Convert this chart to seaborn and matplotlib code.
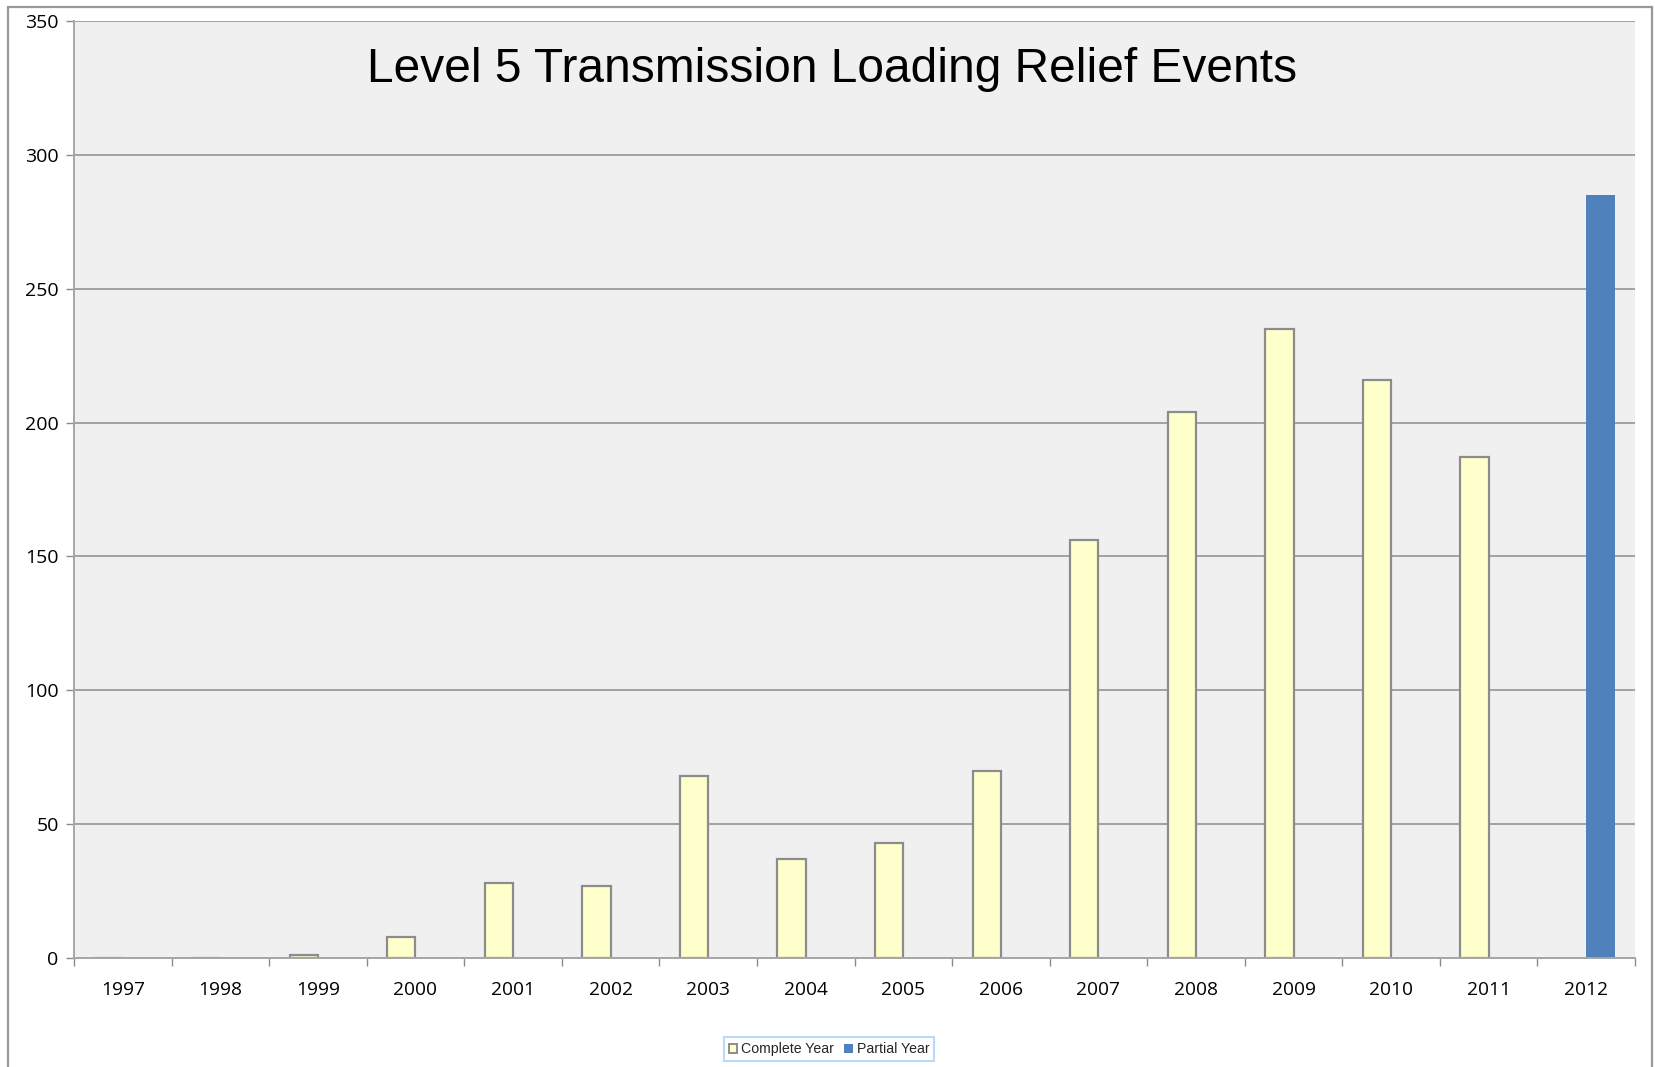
import matplotlib
matplotlib.use("Agg")
import matplotlib.pyplot as plt
from matplotlib.patches import Rectangle, Patch
from matplotlib.ticker import FixedLocator, NullFormatter
import seaborn as sns
import pandas as pd

# Level 5 TLR event counts by year
years = ["1997", "1998", "1999", "2000", "2001", "2002", "2003", "2004",
         "2005", "2006", "2007", "2008", "2009", "2010", "2011", "2012"]
complete_years = years[:-1]
complete_counts = [0, 0, 1, 8, 28, 27, 68, 37, 43, 70, 156, 204, 235, 216, 187]
partial_years = ["2012"]
partial_counts = [285]
series = ["Complete Year", "Partial Year"]
yticks = [0, 50, 100, 150, 200, 250, 300, 350]

df = pd.DataFrame({
    "year": complete_years + partial_years,
    "events": complete_counts + partial_counts,
    "kind": [series[0]] * len(complete_years) + [series[1]] * len(partial_years),
})

sns.set_theme(style="white")
plt.rcParams["font.family"] = ["Open Sans", "DejaVu Sans"]

fig = plt.figure(figsize=(16.55, 10.67), dpi=100)
ax = fig.add_axes([74 / 1655, 109 / 1067, (1635 - 74) / 1655, (958 - 21) / 1067])
ax.set_facecolor("#f0f0f0")

fill_colors = {"Complete Year": "#ffffcc", "Partial Year": "#4f81bd"}
sns.barplot(data=df, x="year", y="events", hue="kind", order=years,
            hue_order=series, palette=fill_colors, width=0.58,
            saturation=1, dodge=True, ax=ax, legend=False, zorder=3)

for bar in ax.patches:
    fc = bar.get_facecolor()
    if fc[2] > 0.7 and fc[0] > 0.9:  # light yellow bars get a gray outline
        bar.set_edgecolor("#8c8c8c")
        bar.set_linewidth(1.6)
    else:
        bar.set_edgecolor("none")

ax.set_xlim(-0.5, len(years) - 0.5)
ax.set_ylim(0, 350)
ax.set_yticks(yticks)
ax.yaxis.grid(True, color="#8c8c8c", linewidth=1.1, zorder=0)
ax.set_axisbelow(True)
ax.set_xlabel("")
ax.set_ylabel("")

# year labels centred, tick marks on category boundaries
ax.xaxis.set_minor_locator(FixedLocator([i - 0.5 for i in range(len(years) + 1)]))
ax.xaxis.set_minor_formatter(NullFormatter())
ax.tick_params(axis="x", which="major", length=0, labelsize=13.8, pad=16.5,
               labelcolor="black")
ax.tick_params(axis="x", which="minor", bottom=True, length=6, width=1,
               color="#8c8c8c")
ax.tick_params(axis="y", left=True, length=6, width=1, color="#8c8c8c",
               labelsize=14, pad=5, labelcolor="black")

for side in ("top", "right"):
    ax.spines[side].set_visible(False)
for side in ("left", "bottom"):
    ax.spines[side].set_color("#a6a6a6")
    ax.spines[side].set_linewidth(1.4)
    ax.spines[side].set_zorder(4)

fig.text(0.503, 1 - 69 / 1067, "Level 5 Transmission Loading Relief Events",
         ha="center", va="center", fontsize=34.5, family=["Liberation Sans"],
         color="black")

handles = [Patch(facecolor="#ffffcc", edgecolor="#8c8c8c", linewidth=1.4),
           Patch(facecolor="#4f81bd", edgecolor="none")]
leg = fig.legend(handles, series, loc="center", ncol=2,
                 bbox_to_anchor=(829 / 1655, 1 - 1049 / 1067),
                 prop={"family": "Liberation Sans", "size": 10.2},
                 handlelength=0.6, handleheight=0.6, handletextpad=0.3,
                 columnspacing=0.7, borderpad=0.35, borderaxespad=0,
                 frameon=True, fancybox=False)
leg.get_frame().set_edgecolor("#a9cff5")
leg.get_frame().set_linewidth(1.5)

# outer chart border
fig.patches.append(Rectangle((7.5 / 1655, -0.05), (1652 - 7.5) / 1655,
                             1.05 - 7.5 / 1067, transform=fig.transFigure,
                             fill=False, edgecolor="#999999", linewidth=1.6,
                             zorder=0))

fig.savefig("out.png", dpi=100, facecolor="white")
